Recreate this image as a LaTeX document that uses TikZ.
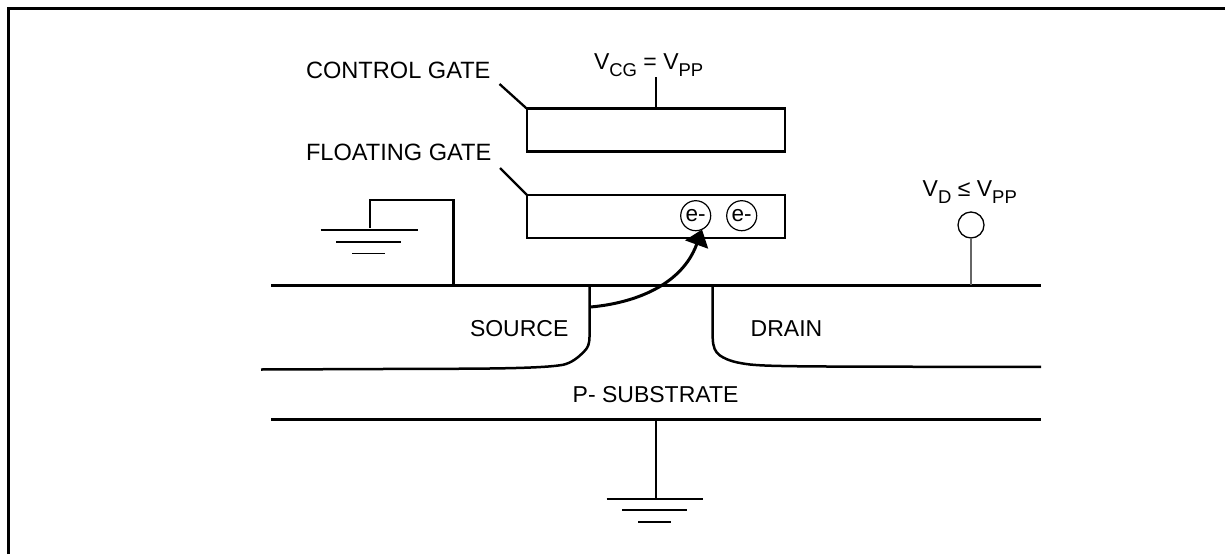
\documentclass[tikz,border=0pt]{standalone}
\usepackage{fontspec}
\setmainfont{Liberation Sans}
\usetikzlibrary{arrows.meta}
\newcommand{\sbs}[1]{\raisebox{-6.7pt}{\fontsize{18.5}{20}\selectfont #1}}
\tikzset{
  wire/.style={line width=2.7pt,black},
  gatebox/.style={draw,line width=2.7pt,minimum width=258pt,minimum height=43pt,inner sep=0pt,outer sep=0pt},
  elec/.style={draw,circle,line width=1.2pt,minimum size=30pt,inner sep=0pt,outer sep=0pt,font=\fontsize{22.5}{24}\selectfont},
  lab/.style={anchor=base west,inner sep=0pt,outer sep=0pt,font=\fontsize{23}{27}\selectfont},
  gatelab/.style={lab,font=\fontsize{23.6}{27}\selectfont},
  bar/.style={line width=2pt},
  thinbar/.style={line width=1.2pt},
}
\begin{document}
\begin{tikzpicture}[x=1pt,y=-1pt,line join=miter]
\useasboundingbox (0,0) rectangle (1225,554);
% frame
\coordinate (fa) at (8.5,554);
\coordinate (fb) at (8.5,8.5);
\coordinate (fc) at (1225,8.5);
\draw[line width=2.7pt] (fa) -- (fb) -- (fc);
% gates
\node[gatebox] (cg) at (656,130.3) {};
\node[gatebox] (fg) at (656,216.5) {};
\node[gatelab] (cgl) at (306,78) {CONTROL GATE};
\node[gatelab] (fgl) at (306,160) {FLOATING GATE};
\coordinate (cgt) at (499.5,84);
\coordinate (fgt) at (500,168);
\draw[line width=2.3pt] (cgt) -- (cg.north west);
\draw[line width=2.3pt] (fgt) -- (fg.north west);
\node[lab] (vcg) at (594,69.3) {V\sbs{CG} = V\sbs{PP}};
\coordinate (vcgs) at (656,77);
\draw[line width=2.3pt] (vcgs) -- (cg.north);
% electrons
\node[elec] (e1) at (695.7,215.7) {e-};
\node[elec] (e2) at (741.7,215.7) {e-};
% surface lines
\coordinate (t1) at (271,285.3);
\coordinate (t2) at (1041,285.3);
\draw[wire] (t1) -- (t2);
\coordinate (b1) at (271,419.5);
\coordinate (b2) at (1041,419.5);
\draw[wire] (b1) -- (b2);
% left ground
\coordinate (g0) at (370,228);
\coordinate (g1) at (370,200);
\coordinate (g2) at (453.7,200);
\coordinate (g3) at (453.7,285.3);
\draw[line width=2.5pt] (g0) -- (g1) -- (g2) -- (g3);
\coordinate (ga1) at (320.7,230); \coordinate (ga2) at (417.7,230);
\coordinate (gb1) at (336,241.5); \coordinate (gb2) at (401,241.5);
\coordinate (gc1) at (352,253.2); \coordinate (gc2) at (385,253.2);
\draw[bar] (ga1) -- (ga2);
\draw[bar] (gb1) -- (gb2);
\draw[thinbar] (gc1) -- (gc2);
% bottom ground
\coordinate (s0) at (656,418);
\coordinate (s1) at (656,498.7);
\draw[line width=2.5pt] (s0) -- (s1);
\coordinate (sa1) at (606.7,498.7); \coordinate (sa2) at (703.3,498.7);
\coordinate (sb1) at (622,510.3); \coordinate (sb2) at (687,510.3);
\coordinate (sc1) at (638,522); \coordinate (sc2) at (671,522);
\draw[bar] (sa1) -- (sa2);
\draw[bar] (sb1) -- (sb2);
\draw[bar] (sc1) -- (sc2);
% source well
\coordinate (so0) at (589.5,285.3);
\coordinate (so1) at (589.5,337);
\coordinate (so2) at (584.5,351);
\coordinate (so3) at (563,364.8);
\coordinate (so4) at (430,368.8);
\coordinate (so5) at (261,369.5);
\draw[wire,line width=2.5pt] (so0) -- (so1) .. controls (589.5,343) and (588,348) .. (so2) .. controls (578,358) and (571,363) .. (so3) .. controls (545,368) and (500,368.8) .. (so4) -- (so5);
% drain well
\coordinate (dr0) at (712.7,285.3);
\coordinate (dr1) at (712.7,338);
\coordinate (dr2) at (720,355.5);
\coordinate (dr3) at (750,364.5);
\coordinate (dr4) at (1041,366.8);
\draw[wire,line width=2.5pt] (dr0) -- (dr1) .. controls (713,347) and (715,352) .. (dr2) .. controls (728,361) and (738,363) .. (dr3) .. controls (770,366.5) and (800,366.8) .. (dr4);
% electron path
\coordinate (ep) at (590.5,307);
\coordinate (et) at (702,229.5);
\draw[line width=3pt,-{Triangle[length=16pt,width=24pt]}] (ep) .. controls (635,303) and (682,285) .. (et);
% drain contact
\node[draw,circle,line width=1.3pt,minimum size=26pt,inner sep=0pt,outer sep=0pt] (vd) at (971,225) {};
\coordinate (vdb) at (971,285.3);
\draw[line width=1.2pt,black!60] (vd) -- (vdb);
\node[lab] (vdl) at (922.7,196.7) {V\sbs{D} ≤ V\sbs{PP}};
% labels
\node[lab] (src) at (470,336.7) {SOURCE};
\node[lab] (drn) at (750.7,336.7) {DRAIN};
\node[lab] (sub) at (572.7,402.7) {P- SUBSTRATE};
\end{tikzpicture}
\end{document}
